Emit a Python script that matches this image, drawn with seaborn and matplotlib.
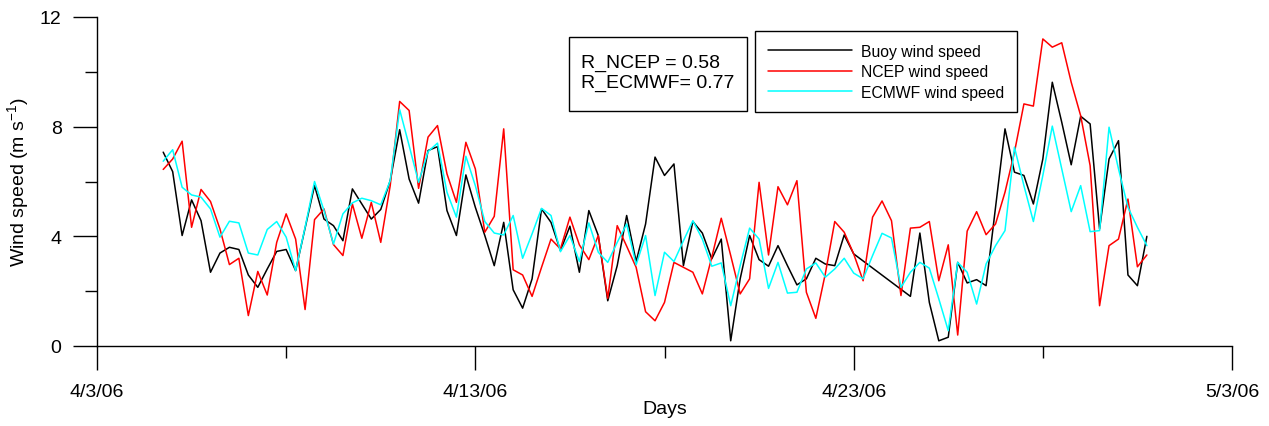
import numpy as np
import pandas as pd
import matplotlib
matplotlib.use("Agg")
import matplotlib.pyplot as plt
import seaborn as sns
from matplotlib.patches import Rectangle

nan = np.nan
start_time = "2006-04-04 18:00"   # 6-hourly series

buoy = [7.07, 6.36, 4.03, 5.33, 4.57, 2.69, 3.39, 3.60, 3.52, 2.59,
        2.14, 2.81, 3.45, 3.52, 2.75, 4.30, 5.85, 4.63, 4.39, 3.84,
        5.73, 5.18, 4.63, 4.98, 6.03, 7.89, 6.09, 5.21, 7.13, 7.27,
        4.94, 4.03, 6.24, 5.06, 4.03, 2.93, 4.51, 2.05, 1.38, 2.45,
        5.00, 4.51, 3.48, 4.37, 2.69, 4.94, 4.03, 1.65, 2.93, 4.76,
        3.08, 4.45, 6.89, 6.22, 6.64, 2.93, 4.54, 4.12, 3.18, 3.90,
        0.19, 2.45, 4.03, 3.15, 2.91, 3.66, 2.93, 2.23, 2.45, 3.20,
        2.99, 2.93, 4.05, 3.36, nan, nan, nan, nan, nan, 1.81,
        4.12, 1.59, 0.19, 0.32, 3.05, 2.30, 2.42, 2.20, 5.06, 7.92,
        6.34, 6.22, 5.18, 6.82, 9.62, 8.16, 6.61, 8.38, 8.10, 4.27,
        6.82, 7.49, 2.59, 2.20, 4.00]

ncep = [6.44, 6.82, 7.47, 4.33, 5.71, 5.27, 4.27, 2.97, 3.20, 1.11,
        2.72, 1.86, 3.78, 4.82, 3.90, 1.33, 4.61, 5.00, 3.70, 3.30,
        5.18, 3.93, 5.24, 3.78, 5.85, 8.92, 8.59, 5.75, 7.62, 8.04,
        6.28, 5.24, 7.43, 6.46, 4.15, 4.73, 7.92, 2.78, 2.59, 1.81,
        2.87, 3.90, 3.54, 4.70, 3.69, 3.15, 4.03, 1.74, 4.39, 3.64,
        2.87, 1.25, 0.92, 1.59, 3.05, 2.87, 2.69, 1.90, 3.24, 4.66,
        3.30, 1.90, 2.45, 5.97, 3.32, 5.81, 5.15, 6.03, 1.96, 1.01,
        2.63, 4.54, 4.15, 3.36, 2.38, 4.70, 5.29, 4.57, 1.84, 4.30,
        4.33, 4.54, 2.38, 3.69, 0.40, 4.19, 4.90, 4.06, 4.45, 5.61,
        7.07, 8.83, 8.75, 11.20, 10.90, 11.06, 9.62, 8.40, 6.58, 1.47,
        3.66, 3.90, 5.36, 2.89, 3.32]

ecmwf = [6.74, 7.16, 5.79, 5.51, 5.43, 5.00, 3.97, 4.55, 4.49, 3.39,
         3.32, 4.25, 4.54, 3.97, 2.75, 4.33, 6.00, 4.94, 3.72, 4.82,
         5.22, 5.39, 5.30, 5.15, 6.03, 8.62, 7.31, 5.97, 7.09, 7.40,
         5.61, 4.70, 6.92, 5.85, 4.54, 4.12, 4.05, 4.76, 3.20, 4.09,
         5.02, 4.76, 3.44, 4.03, 3.08, 4.49, 3.42, 3.05, 3.78, 4.45,
         2.96, 4.03, 1.84, 3.42, 3.08, 3.84, 4.57, 3.90, 2.91, 3.03,
         1.47, 2.93, 4.30, 3.90, 2.10, 3.05, 1.93, 1.96, 2.81, 3.03,
         2.51, 2.81, 3.20, 2.66, 2.45, 3.30, 4.11, 3.94, 2.14, 2.69,
         3.05, 2.84, 1.72, 0.56, 3.05, 2.69, 1.53, 2.99, 3.66, 4.21,
         7.25, 5.85, 4.54, 6.22, 8.02, 6.46, 4.90, 5.85, 4.17, 4.21,
         7.98, 6.46, 5.06, 4.33, 3.66]

series_names = ["Buoy wind speed", "NCEP wind speed", "ECMWF wind speed"]
series_colors = ["#000000", "#ff0000", "#00ffff"]
xtick_dates = ["2006-04-03", "2006-04-13", "2006-04-23", "2006-05-03"]
xtick_labels = ["4/3/06", "4/13/06", "4/23/06", "5/3/06"]
xminor_dates = ["2006-04-08", "2006-04-18", "2006-04-28"]
yticks = [0, 4, 8, 12]
yminor = [2, 6, 10]
r_text = "R_NCEP = 0.58\nR_ECMWF= 0.77"
x_label = "Days"
y_label = r"Wind speed (m s$^{\mathrm{-1}}$)"

sns.set_style("ticks")
plt.rcParams["font.family"] = ["Liberation Sans", "DejaVu Sans"]
plt.rcParams["mathtext.fontset"] = "custom"
plt.rcParams["mathtext.rm"] = "Liberation Sans"
plt.rcParams["mathtext.it"] = "Liberation Sans:italic"
plt.rcParams["text.color"] = "black"
plt.rcParams["axes.labelcolor"] = "black"

times = pd.date_range(start_time, periods=len(buoy), freq="6h")
df = pd.DataFrame({"time": times, series_names[0]: buoy,
                   series_names[1]: ncep, series_names[2]: ecmwf})
long = df.melt(id_vars="time", var_name="series", value_name="speed").dropna()

W, H = 1269, 427
fig = plt.figure(figsize=(W / 100, H / 100), dpi=100)
ax = fig.add_axes([97 / W, 1 - 347 / H, (1232 - 97) / W, (347 - 18) / H])

sns.lineplot(data=long, x="time", y="speed", hue="series",
             hue_order=series_names, palette=series_colors,
             estimator=None, linewidth=1.1, ax=ax)

ax.set_xlim(pd.Timestamp(xtick_dates[0]), pd.Timestamp(xtick_dates[-1]))
ax.set_ylim(yticks[0], yticks[-1])
ax.set_xticks([pd.Timestamp(d) for d in xtick_dates])
ax.set_xticklabels(xtick_labels)
ax.set_xticks([pd.Timestamp(d) for d in xminor_dates], minor=True)
ax.set_yticks(yticks)
ax.set_yticklabels([str(v) for v in yticks])
ax.set_yticks(yminor, minor=True)

for s in ["top", "right"]:
    ax.spines[s].set_visible(False)
for s in ["left", "bottom"]:
    ax.spines[s].set_color("black")
    ax.spines[s].set_linewidth(1.0)

ax.tick_params(which="major", direction="out", length=17.5, width=1.0,
               color="black", labelsize=14, labelcolor="black")
ax.tick_params(axis="x", which="major", pad=9)
ax.tick_params(axis="y", which="major", pad=8)
ax.tick_params(which="minor", direction="out", length=8.8, width=1.0,
               color="black")

ax.set_xlabel(x_label, fontsize=14, color="black")
ax.set_ylabel(y_label, fontsize=14, color="black")
ax.xaxis.set_label_coords(0.5, -0.165)
ax.yaxis.set_label_coords(-0.058, 0.5)

handles, labels = ax.get_legend_handles_labels()
leg = ax.legend(handles, labels, loc="upper left",
                bbox_to_anchor=(755 / W, 1 - 32 / H), bbox_transform=fig.transFigure,
                borderaxespad=0, frameon=True, fancybox=False, framealpha=1,
                edgecolor="black", fontsize=11.3, handlelength=5.4,
                handletextpad=0.55, borderpad=0.8, labelspacing=0.36)
leg.get_frame().set_linewidth(1.0)
for line in leg.get_lines():
    line.set_linewidth(1.1)
for t in leg.get_texts():
    t.set_color("black")

fig.patches.append(Rectangle((569 / W, 1 - 112 / H), (747 - 569) / W, (112 - 38) / H,
                             transform=fig.transFigure, fill=False,
                             edgecolor="black", linewidth=1.0))
fig.text((569 + 747) / 2 / W, 1 - 73.5 / H, r_text, ha="center", va="center",
         fontsize=14, multialignment="left", linespacing=1.25, color="black")

fig.savefig("out.png", dpi=100)
